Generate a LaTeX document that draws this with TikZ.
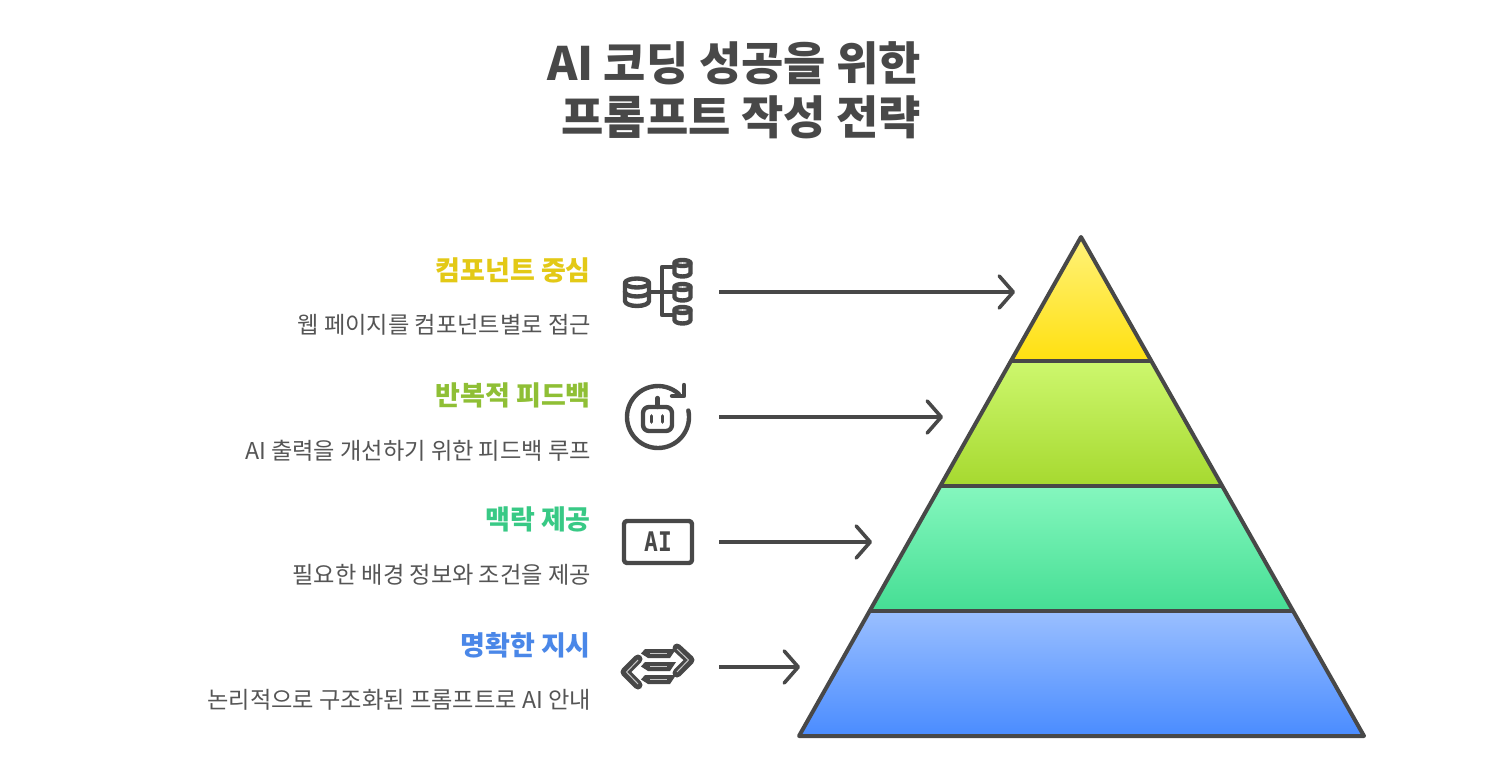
\documentclass[tikz,border=0pt]{standalone}
\usepackage{fontspec}
\usepackage{graphicx}
\setmainfont{Noto Sans CJK KR}
\usetikzlibrary{arrows.meta}
\definecolor{ink}{HTML}{484848}
\definecolor{sub}{HTML}{555555}
\definecolor{hy}{HTML}{E3C916}
\definecolor{hg}{HTML}{8FBF35}
\definecolor{hm}{HTML}{38C985}
\definecolor{hb}{HTML}{4A87E8}
\tikzset{
  titletext/.style={anchor=east,align=right,text=ink,font=\fontsize{46}{54}\selectfont\bfseries,inner sep=0pt},
  headtext/.style={anchor=east,inner sep=0pt,font=\fontsize{27}{32}\selectfont\bfseries},
  subtext/.style={anchor=east,inner sep=0pt,text=sub,font=\fontsize{23.2}{28}\selectfont},
  layer/.style={draw=ink,line width=4pt,line join=round},
  conn/.style={draw=ink,line width=3.6pt,-{Straight Barb[length=14pt,width=32pt,line width=3.6pt,round]}},
  ic/.style={draw=ink,line width=4.4pt,line cap=round,line join=round,fill=none},
}
\begin{document}
\begin{tikzpicture}[x=1pt,y=-1pt]
\useasboundingbox (0,0) rectangle (1488,770);
\fill[white] (0,0) rectangle (1488,770);
% title
\node[titletext] (title) at (921.5,90) {AI 코딩 성공을 위한\\프롬프트 작성 전략};
% pyramid
\shade[top color={rgb,255:red,133;green,247;blue,190},bottom color={rgb,255:red,69;green,222;blue,148}] (941,486) -- (1222,486) -- (1293,611) -- (871,611) -- cycle;
\shade[top color={rgb,255:red,154;green,191;blue,255},bottom color={rgb,255:red,74;green,140;blue,255}] (871,611) -- (1293,611) -- (1364,736) -- (799,736) -- cycle;
\shade[top color={rgb,255:red,205;green,247;blue,110},bottom color={rgb,255:red,166;green,217;blue,47}] (1012,361) -- (1152,361) -- (1222,486) -- (941,486) -- cycle;
\shade[top color={rgb,255:red,255;green,242;blue,122},bottom color={rgb,255:red,255;green,224;blue,16}] (1081,237) -- (1152,361) -- (1012,361) -- cycle;
\draw[layer] (1081,237) -- (1364,736) -- (799,736) -- cycle;
\draw[layer] (1012,361) -- (1152,361);
\draw[layer] (941,486) -- (1222,486);
\draw[layer] (871,611) -- (1293,611);
% texts
\node[headtext,text=hy] (h1) at (591,270) {컴포넌트 중심};
\node[subtext] (s1) at (591,325) {웹 페이지를 컴포넌트별로 접근};
\node[headtext,text=hg] (h2) at (591,395) {반복적 피드백};
\node[subtext] (s2) at (591,451) {AI 출력을 개선하기 위한 피드백 루프};
\node[headtext,text=hm] (h3) at (591,519) {맥락 제공};
\node[subtext] (s3) at (591,575) {필요한 배경 정보와 조건을 제공};
\node[headtext,text=hb] (h4) at (591,645) {명확한 지시};
\node[subtext] (s4) at (591,700) {논리적으로 구조화된 프롬프트로 AI 안내};
% connectors
\coordinate (a1) at (719,292); \coordinate (b1) at (1015,292);
\coordinate (a2) at (719,417); \coordinate (b2) at (943,417);
\coordinate (a3) at (719,542); \coordinate (b3) at (872,542);
\coordinate (a4) at (719,667); \coordinate (b4) at (800,667);
\draw[conn] (a1) -- (b1);
\draw[conn] (a2) -- (b2);
\draw[conn] (a3) -- (b3);
\draw[conn] (a4) -- (b4);
% icon 1
\draw[ic] (625,283) -- (625,301) arc[start angle=180,end angle=0,x radius=12,y radius=5] -- (649,283);
\draw[ic] (637,283) ellipse[x radius=12,y radius=4.5];
\draw[ic] (625,292) arc[start angle=180,end angle=0,x radius=12,y radius=4.5];
\draw[ic] (650,292) -- (672,292);
\draw[ic] (672,267) -- (662,267) -- (662,315) -- (672,315);
\foreach \yy in {263,287,310}{
  \draw[ic] (674.5,\yy) -- (674.5,\yy+10) arc[start angle=180,end angle=0,x radius=8,y radius=3.5] -- (690.5,\yy);
  \draw[ic] (682.5,\yy) ellipse[x radius=8,y radius=3];
}
% icon 2
\draw[ic] (658,417) ++(-12:31) arc[start angle=-12,end angle=312,radius=31];
\draw[ic] (684,385) -- (684,396) -- (672,396);
\draw[ic,rounded corners=6pt] (643,407) rectangle (672,431);
\draw[ic] (657.5,398) -- (657.5,407);
\draw[ic,line width=3.6pt] (651.5,416) -- (651.5,422);
\draw[ic,line width=3.6pt] (662.5,416) -- (662.5,422);
% icon 3
\draw[ic,rounded corners=3pt] (624,521) rectangle (692,563);
\node[inner sep=0pt,text=ink,font=\fontspec{DejaVu Sans Mono Bold}\fontsize{27}{27}\selectfont] (ai) at (658,542) {\scalebox{.85}[1]{AI}};
% icon 4
\foreach \yy in {653.5,666.5,679.5}{
  \fill[ink] (645,\yy-4.5) -- (676,\yy-4.5) -- (670,\yy+4.5) -- (648,\yy+4.5) -- (641,\yy) -- cycle;
  \draw[ink!30,line width=1pt] (650,\yy) -- (667,\yy);
}
\draw[ink,line width=9pt,line join=round,line cap=round] (638,659) -- (625,672) -- (638,685);
\draw[ink!30,line width=1pt] (638,660) -- (626.5,672) -- (638,684);
\draw[ink,line width=9pt,line join=round,line cap=round] (677,648) -- (690,660) -- (677,673);
\draw[ink!30,line width=1pt] (677,649) -- (688.5,660) -- (677,672);
\end{tikzpicture}
\end{document}
